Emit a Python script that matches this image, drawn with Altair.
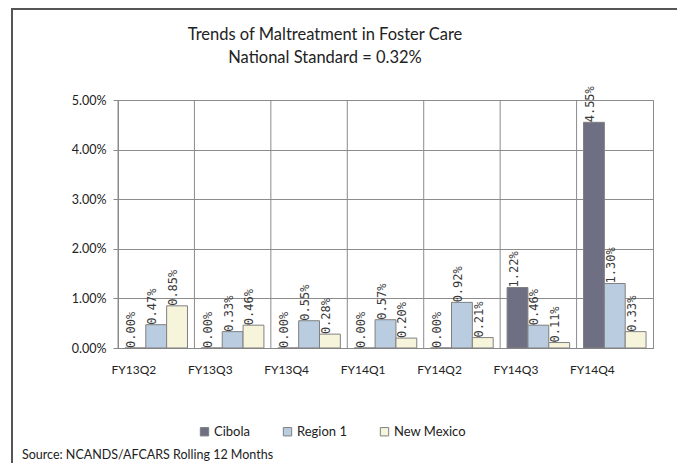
import altair as alt
import pandas as pd

quarters = ["FY13Q2", "FY13Q3", "FY13Q4", "FY14Q1", "FY14Q2", "FY14Q3", "FY14Q4"]
series = ["Cibola", "Region 1", "New Mexico"]
cibola = [0.00, 0.00, 0.00, 0.00, 0.00, 1.22, 4.55]
region1 = [0.47, 0.33, 0.55, 0.57, 0.92, 0.46, 1.30]
new_mexico = [0.85, 0.46, 0.28, 0.20, 0.21, 0.11, 0.33]
colors = ["#6f6f84", "#b9cce0", "#f7f4dc"]
title_lines = ["Trends of Maltreatment in Foster Care", "National Standard = 0.32%"]
source_text = "Source:  NCANDS/AFCARS  Rolling 12 Months"

rows = []
for s, vals in zip(series, [cibola, region1, new_mexico]):
    for q, v in zip(quarters, vals):
        rows.append({"quarter": q, "series": s, "value": v})
df = pd.DataFrame(rows)
qdf = pd.DataFrame({"quarter": quarters})

FONT = "Lato"
W, H = 535, 248

xenc = alt.X("quarter:N", sort=quarters, title=None,
             scale=alt.Scale(paddingInner=0, paddingOuter=0),
             axis=alt.Axis(labelFont=FONT, labelFontSize=12, labelColor="#222",
                           labelPadding=21, ticks=False, domainColor="#888",
                           labelAngle=0, grid=False))
yenc = alt.Y("value:Q", title=None,
             scale=alt.Scale(domain=[0, 5], nice=False),
             axis=alt.Axis(values=[0, 1, 2, 3, 4, 5],
                           labelExpr="format(datum.value, '.2f') + '%'",
                           labelFont=FONT, labelFontSize=12.5, labelColor="#222",
                           tickSize=5, tickColor="#888", domainColor="#888",
                           labelPadding=7, gridColor="#8c8c8c", gridWidth=1,
                           gridOpacity=1))
off = alt.XOffset("series:N", sort=series,
                  scale=alt.Scale(paddingInner=0, paddingOuter=0.333))
color = alt.Color("series:N", sort=series,
                  scale=alt.Scale(domain=series, range=colors),
                  legend=alt.Legend(title=None, orient="none", direction="horizontal",
                                    legendX=80, legendY=325, symbolType="square",
                                    symbolSize=70, symbolStrokeColor="#808080",
                                    symbolStrokeWidth=1, labelFont=FONT,
                                    labelFontSize=13, labelColor="#222",
                                    columnPadding=31, labelOffset=3))

vgrid = alt.Chart(qdf).mark_rule(color="#8c8c8c", strokeWidth=1).encode(
    x=alt.X("quarter:N", sort=quarters, bandPosition=0),
    y=alt.value(0), y2=alt.value(H),
)

bars = alt.Chart(df).mark_bar(stroke="#808080", strokeWidth=1).encode(
    x=xenc, y=yenc, xOffset=off, color=color,
)

labels = alt.Chart(df).transform_calculate(
    label="format(datum.value, '.2f') + '%'"
).mark_text(angle=270, align="left", baseline="middle", dy=-4,
            font="DejaVu Sans Mono", fontSize=12, color="#3a3a3a").encode(
    x=alt.X("quarter:N", sort=quarters), y="value:Q", xOffset=off, text="label:N",
)

frame = pd.DataFrame({"k": [0]})
top_line = alt.Chart(frame).mark_rule(color="#555", strokeWidth=2).encode(
    x=alt.value(-106), x2=alt.value(W + 40), y=alt.value(-91),
)
left_line = alt.Chart(frame).mark_rule(color="#555", strokeWidth=2).encode(
    x=alt.value(-106), y=alt.value(-92), y2=alt.value(H + 120),
)
title1 = alt.Chart(frame).mark_text(align="center", baseline="middle", font=FONT,
                                     fontSize=16.5, color="#222").encode(
    x=alt.value(207), y=alt.value(-65), text=alt.value(title_lines[0]),
)
title2 = alt.Chart(frame).mark_text(align="center", baseline="middle", font=FONT,
                                     fontSize=16.5, color="#222").encode(
    x=alt.value(207), y=alt.value(-42), text=alt.value(title_lines[1]),
)
source = alt.Chart(frame).mark_text(align="left", baseline="middle", font=FONT,
                                     fontSize=12.5, color="#222").encode(
    x=alt.value(-96), y=alt.value(355),
    text=alt.value(source_text),
)

chart = alt.layer(vgrid, bars, labels, top_line, left_line, title1, title2, source).properties(
    width=W, height=H,
    padding={"left": 110, "top": 92, "right": 24, "bottom": 115},
    autosize="none",
).configure_view(stroke="#8c8c8c", strokeWidth=1)

chart.save("out.html", embed_options={"renderer": "svg", "actions": False})
